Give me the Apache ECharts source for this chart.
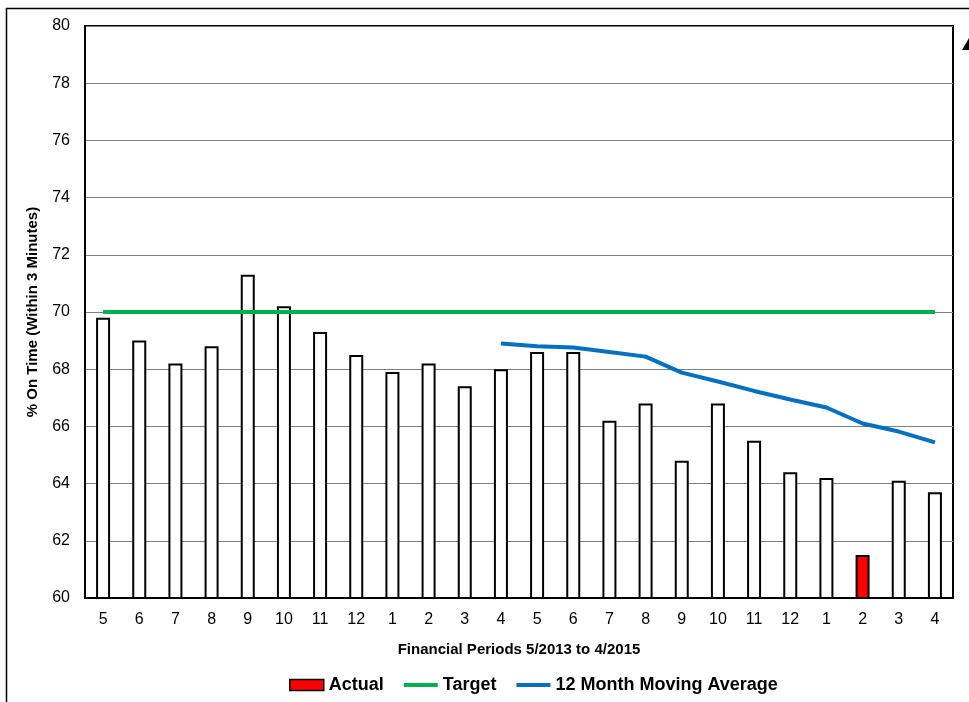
<!DOCTYPE html>
<html>
<head>
<meta charset="utf-8">
<script src="https://cdn.jsdelivr.net/npm/echarts@6/dist/echarts.min.js"></script>
<style>
  html, body { margin: 0; padding: 0; background: #fff; }
  #chart { width: 969px; height: 702px; }
</style>
</head>
<body>
<div id="chart"></div>
<script>
// periods 5/2013 .. 4/2015
const periods = ['5', '6', '7', '8', '9', '10', '11', '12', '1', '2', '3', '4',
  '5', '6', '7', '8', '9', '10', '11', '12', '1', '2', '3', '4'];
const actual = [69.8, 69.0, 68.2, 68.8, 71.3, 70.2, 69.3, 68.5, 67.9, 68.2, 67.4, 68.0,
  68.6, 68.6, 66.2, 66.8, 64.8, 66.8, 65.5, 64.4, 64.2, 61.5, 64.1, 63.7];
const target = [70, 70, 70, 70, 70, 70, 70, 70, 70, 70, 70, 70,
  70, 70, 70, 70, 70, 70, 70, 70, 70, 70, 70, 70];
const movingAvg = [null, null, null, null, null, null, null, null, null, null, null, 68.9,
  68.8, 68.76, 68.6, 68.44, 67.88, 67.57, 67.24, 66.94, 66.66, 66.1, 65.82, 65.44];
const highlightIndex = 21; // latest period shown in red

const font = 'Liberation Sans, Arial, sans-serif';
const lineIcon = 'path://M0,0H34V4H0Z';
const chart = echarts.init(document.getElementById('chart'));

const barData = actual.map((v, i) => i === highlightIndex
  ? { value: v, itemStyle: { color: '#ff0000' } }
  : v);

chart.setOption({
  animation: false,
  textStyle: { fontFamily: font, color: '#000' },
  graphic: [
    {
      type: 'rect',
      shape: { x: 6.5, y: 8.5, width: 1200, height: 1200 },
      style: { fill: 'none', stroke: '#000', lineWidth: 1.5 },
      silent: true
    },
    {
      type: 'polygon',
      shape: { points: [[962, 50], [969, 38], [969, 50]] },
      style: { fill: '#000' },
      silent: true
    }
  ],
  grid: {
    left: 85, right: 16, top: 26, bottom: 104,
    show: true, borderColor: '#000', borderWidth: 2
  },
  legend: {
    top: 676,
    left: 289,
    padding: 0,
    itemGap: 20,
    itemWidth: 34,
    itemHeight: 11,
    textStyle: { fontFamily: font, fontWeight: 'bold', fontSize: 18, color: '#000' },
    data: [
      { name: 'Actual', icon: 'rect', itemStyle: { color: '#ff0000', borderColor: '#000', borderWidth: 1.5 } },
      { name: 'Target', icon: lineIcon, itemStyle: { color: '#00b050' } },
      { name: '12 Month Moving Average', icon: lineIcon, itemStyle: { color: '#0070c0' } }
    ]
  },
  xAxis: {
    type: 'category',
    data: periods,
    name: 'Financial Periods 5/2013 to 4/2015',
    nameLocation: 'middle',
    nameGap: 44,
    nameTextStyle: { fontFamily: font, fontWeight: 'bold', fontSize: 15, color: '#000' },
    axisLine: { lineStyle: { color: '#000', width: 2 } },
    axisTick: { show: false },
    axisLabel: { fontFamily: font, fontSize: 16, color: '#000', margin: 14 }
  },
  yAxis: {
    type: 'value',
    min: 60, max: 80, interval: 2,
    name: '% On Time (Within 3 Minutes)',
    nameLocation: 'middle',
    nameGap: 45,
    nameTextStyle: { fontFamily: font, fontWeight: 'bold', fontSize: 15, color: '#000' },
    axisLine: { show: true, lineStyle: { color: '#000', width: 2 } },
    axisTick: { show: false },
    axisLabel: { fontFamily: font, fontSize: 16, color: '#000', margin: 15 },
    splitLine: { lineStyle: { color: '#7f7f7f', width: 1 } }
  },
  series: [
    {
      name: 'Actual',
      type: 'bar',
      data: barData,
      barWidth: 14,
      itemStyle: { color: '#ffffff', borderColor: '#000', borderWidth: 2 }
    },
    {
      name: 'Target',
      type: 'line',
      data: target,
      symbol: 'none',
      lineStyle: { color: '#00b050', width: 4 },
      itemStyle: { color: '#00b050' }
    },
    {
      name: '12 Month Moving Average',
      type: 'line',
      data: movingAvg,
      symbol: 'none',
      lineStyle: { color: '#0070c0', width: 4 },
      itemStyle: { color: '#0070c0' }
    }
  ]
});
</script>
</body>
</html>
